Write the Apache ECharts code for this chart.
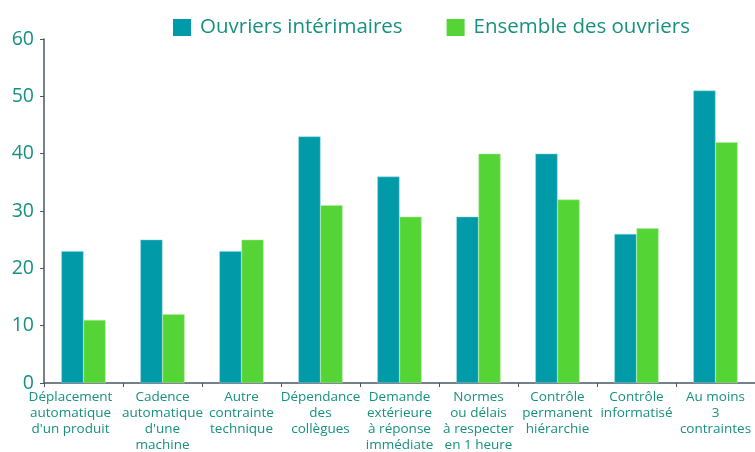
<!DOCTYPE html>
<html>
<head>
<meta charset="utf-8">
<script src="https://cdn.jsdelivr.net/npm/echarts@6/dist/echarts.min.js"></script>
<style>
  html, body { margin: 0; padding: 0; background: #fff; }
  #main { width: 755px; height: 452px; }
</style>
</head>
<body>
<div id="main"></div>
<script>
  // catégories de contraintes
  var categories = [
    "Déplacement\nautomatique\nd'un produit",
    "Cadence\nautomatique\nd'une\nmachine",
    "Autre\ncontrainte\ntechnique",
    "Dépendance\ndes\ncollègues",
    "Demande\nextérieure\nà réponse\nimmédiate",
    "Normes\nou délais\nà respecter\nen 1 heure",
    "Contrôle\npermanent\nhiérarchie",
    "Contrôle\ninformatisé",
    "Au moins\n3\ncontraintes"
  ];
  var interimaires = [23, 25, 23, 43, 36, 29, 40, 26, 51];
  var ensemble = [11, 12, 25, 31, 29, 40, 32, 27, 42];

  var textColor = '#17917f';
  var axisColor = '#4b5663';
  var fontFam = '"Open Sans", "DejaVu Sans", sans-serif';

  // le premier libellé est décalé vers la gauche dans l'original
  var catData = categories.map(function (c, i) {
    if (i === 0) return { value: c, textStyle: { padding: [0, 26, 0, 0] } };
    return c;
  });

  var myChart = echarts.init(document.getElementById('main'));
  var option = {
    animation: false,
    textStyle: { fontFamily: fontFam },
    legend: {
      data: ['Ouvriers intérimaires', 'Ensemble des ouvriers'],
      left: 168,
      top: 12,
      itemWidth: 18,
      itemHeight: 17,
      itemGap: 44,
      icon: 'rect',
      itemStyle: { borderWidth: 0 },
      textStyle: { color: textColor, fontSize: 20.5, fontFamily: fontFam, padding: [0, 0, 0, 4] }
    },
    grid: { left: 44, right: 0, top: 39, bottom: 69, containLabel: false, outerBoundsMode: 'none' },
    xAxis: {
      type: 'category',
      data: catData,
      axisLine: { lineStyle: { color: axisColor, width: 1.5 } },
      axisTick: { show: true, length: 4, lineStyle: { color: axisColor } },
      axisLabel: {
        color: textColor,
        fontSize: 13.5,
        lineHeight: 16,
        margin: 6,
        interval: 0,
        fontFamily: fontFam
      }
    },
    yAxis: {
      type: 'value',
      min: 0,
      max: 60,
      interval: 10,
      splitLine: { show: false },
      axisLine: { show: true, lineStyle: { color: axisColor, width: 1.5 } },
      axisTick: { show: true, length: 4, lineStyle: { color: axisColor } },
      axisLabel: { color: textColor, fontSize: 19.5, margin: 10, fontFamily: fontFam }
    },
    series: [
      {
        name: 'Ouvriers intérimaires',
        type: 'bar',
        data: interimaires,
        barGap: '0%',
        barCategoryGap: '44%',
        itemStyle: { color: '#009aa8', borderColor: '#8fd6dc', borderWidth: 0.5 }
      },
      {
        name: 'Ensemble des ouvriers',
        type: 'bar',
        data: ensemble,
        itemStyle: { color: '#55d535', borderColor: '#b5ec9f', borderWidth: 0.5 }
      }
    ]
  };
  myChart.setOption(option);
</script>
</body>
</html>
